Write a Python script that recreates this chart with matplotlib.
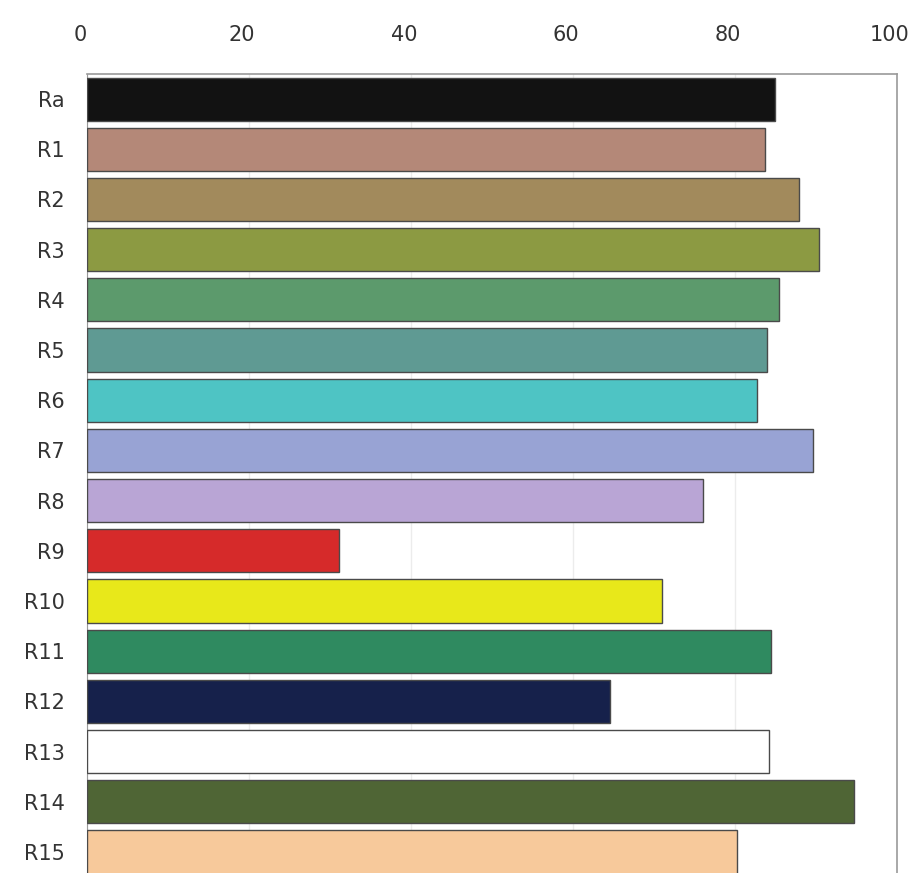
import matplotlib
matplotlib.use("Agg")
import matplotlib.pyplot as plt
from matplotlib.transforms import ScaledTranslation

categories = ["Ra", "R1", "R2", "R3", "R4", "R5", "R6", "R7", "R8", "R9",
              "R10", "R11", "R12", "R13", "R14", "R15"]
values = [84.9, 83.7, 87.9, 90.4, 85.4, 84.0, 82.7, 89.6, 76.0, 31.1,
          71.0, 84.4, 64.6, 84.2, 94.7, 80.2]
colors = ["#121212", "#b48878", "#a28a5c", "#8c9a42", "#5c9a6c", "#5f9a93",
          "#4ec4c4", "#98a3d4", "#b9a5d5", "#d62a2a", "#e8e81a", "#2f8a60",
          "#16214b", "#ffffff", "#4f6535", "#f7c99b"]
x_ticks = [0, 20, 40, 60, 80, 100]

fig = plt.figure(figsize=(9.16, 8.73), dpi=100)
ax = fig.add_axes([87 / 916, 0.0, (897 - 87) / 916, (873 - 74) / 873])

y = list(range(len(categories)))
ax.barh(y, values, height=0.86, color=colors, edgecolor="#4a4a4a", linewidth=1.0, zorder=3)

ax.set_xlim(0, 100)
ax.set_ylim(15.42, -0.5)
ax.set_xticks(x_ticks)
ax.set_xticklabels([str(t) for t in x_ticks])
ax.set_yticks(y)
ax.set_yticklabels(categories)
ax.xaxis.tick_top()
ax.tick_params(axis="x", length=0, pad=21, labelsize=15, colors="#333333")
ax.tick_params(axis="y", length=0, pad=16, labelsize=15, colors="#333333")

offset = ScaledTranslation(-7 / 100, 0, fig.dpi_scale_trans)
for lab in ax.get_xticklabels():
    lab.set_transform(lab.get_transform() + offset)

ax.grid(axis="x", color="#ececec", linewidth=1.0, zorder=0)
for side in ["top", "right"]:
    ax.spines[side].set_color("#9a9a9a")
    ax.spines[side].set_linewidth(1.2)
ax.spines["left"].set_color("#9a9a9a")
ax.spines["bottom"].set_visible(False)

fig.savefig("out.png", dpi=100)
